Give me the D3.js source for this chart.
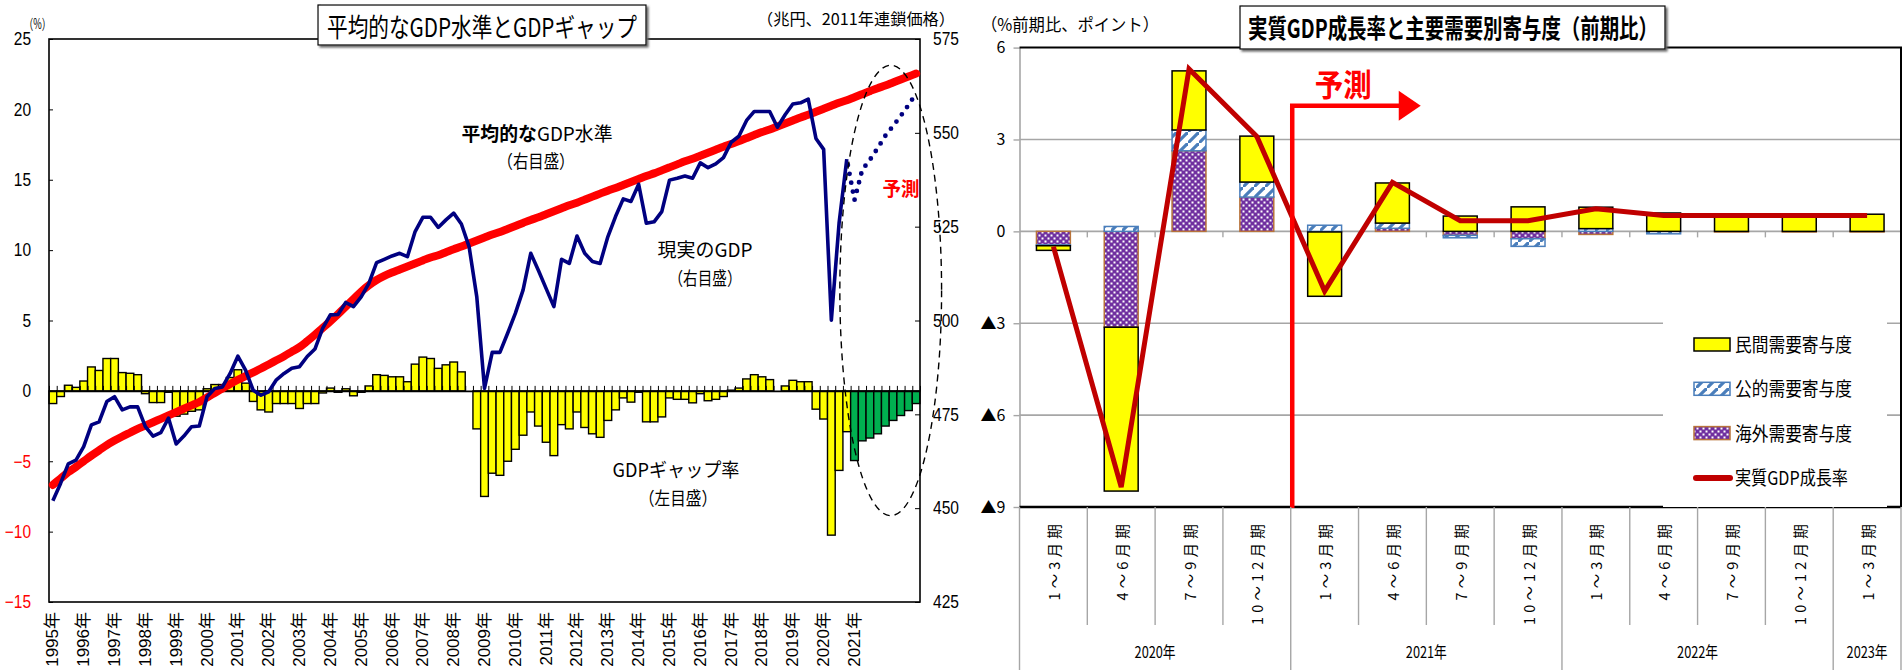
<!DOCTYPE html>
<html lang="ja"><head><meta charset="utf-8">
<script src="https://cdn.jsdelivr.net/npm/d3@7/dist/d3.min.js"></script>
<style>
html,body{margin:0;padding:0;background:#fff;overflow:hidden}
svg{display:block}
text{font-family:"Liberation Sans","Noto Sans CJK JP",sans-serif}
text.jp,.jp text,.jp{font-family:"Noto Sans CJK JP",sans-serif}
</style></head><body>
<svg id="chart" width="1903" height="670"></svg>
<script>
// ================= DATA : left chart =================
const gapYears = [1995,1996,1997,1998,1999,2000,2001,2002,2003,2004,2005,2006,2007,2008,2009,2010,2011,2012,2013,2014,2015,2016,2017,2018,2019,2020,2021,2022,2023];
const lastQuarter = "2023Q1";
const forecastStart = "2021Q1";
const yearTickLabels = ["1995年","1996年","1997年","1998年","1999年","2000年","2001年","2002年","2003年","2004年","2005年","2006年","2007年","2008年","2009年","2010年","2011年","2012年","2013年","2014年","2015年","2016年","2017年","2018年","2019年","2020年","2021年"];
const leftTicks = [-15,-10,-5,0,5,10,15,20,25];
const rightTicks = [425,450,475,500,525,550,575];
// GDP gap rate (%, left axis), 1995Q1 .. 2023Q1
const gdpGap = [
 -0.9,-0.4,0.4,0.25, 0.7,1.7,1.45,2.3, 2.3,1.3,1.25,1.15, -0.2,-0.83,-0.83,-0.1,
 -1.8,-1.65,-1.45,-1.35, 0.15,0.45,0.45,0.95, 1.5,0.55,-0.75,-1.35, -1.5,-0.9,-0.9,-0.9,
 -1.25,-0.9,-0.9,-0.15, 0.2,-0.1,0.15,-0.35, -0.1,0.35,1.15,1.1, 1.0,1.0,0.65,1.9,
 2.4,2.3,1.6,1.85, 2.05,1.35,0.0,-2.7, -7.5,-5.85,-6.0,-5.0, -4.15,-3.15,-1.5,-2.5,
 -3.65,-4.6,-2.4,-2.7, -1.5,-2.6,-3.05,-3.3, -2.1,-1.35,-0.5,-0.8, -0.1,-2.2,-2.2,-1.85,
 -0.5,-0.6,-0.6,-0.85, -0.2,-0.7,-0.6,-0.4, 0.05,0.2,0.85,1.15, 1.0,0.8,0.0,0.35,
 0.75,0.65,0.65,-1.3, -2.0,-10.25,-5.65,-2.9, -4.95,-3.55,-3.35,-3.05, -2.5,-2.1,-1.75,-1.4,
 -0.9];
// actual real GDP (trillion yen, right axis), 1995Q1 .. 2020Q4
const actualGDP = [
 452.0,456.6,461.8,462.8,466.4,472.2,473.0,478.4,479.7,476.2,
 477.0,477.0,471.7,469.2,470.1,474.0,467.1,469.2,471.7,471.9,
 479.7,481.9,482.3,485.9,490.5,486.8,481.4,480.1,481.0,484.2,
 485.9,487.3,487.7,490.4,492.4,497.9,501.5,501.6,504.8,503.7,
 506.3,509.9,515.4,516.3,517.2,517.9,517.0,523.7,527.5,527.5,
 524.8,526.8,528.6,525.7,519.7,506.3,481.9,491.5,491.5,496.6,
 501.9,508.1,517.9,513.3,508.5,503.7,516.3,515.2,522.5,517.9,
 515.7,515.2,522.3,527.7,532.4,531.7,536.3,525.9,526.3,529.0,
 537.4,537.9,538.5,537.9,542.0,540.7,541.7,543.4,547.5,549.1,
 553.3,555.7,555.7,555.7,551.5,554.8,557.7,558.0,559.0,548.5,
 545.6,500.1,525.9,543.0];
// forecast path of real GDP, 2020Q4 .. 2023Q1
const actualGDPForecast = [543.0,532.1,540.1,542.8,545.9,549.2,551.8,554.5,557.4,560.5];
// average (potential) GDP level (right axis), 1995Q1 .. 2023Q1
const potentialGDP = [
 456.2,457.9,459.6,461.0,462.5,464.0,465.4,466.8,468.0,469.1,
 470.1,471.1,472.0,472.9,473.8,474.7,475.6,476.5,477.4,478.3,
 479.5,480.7,481.9,483.1,484.2,485.2,486.2,487.2,488.3,489.4,
 490.5,491.7,492.9,494.5,496.2,498.0,499.8,501.7,503.7,505.7,
 507.7,509.4,510.8,511.9,512.8,513.6,514.4,515.2,516.0,516.8,
 517.4,518.2,519.0,519.7,520.5,521.3,522.1,522.9,523.6,524.4,
 525.2,526.0,526.8,527.5,528.3,529.1,529.9,530.7,531.4,532.2,
 533.0,533.8,534.6,535.3,536.1,536.9,537.7,538.5,539.2,540.0,
 540.8,541.6,542.4,543.1,543.9,544.7,545.5,546.3,547.0,547.8,
 548.6,549.4,550.2,550.9,551.7,552.5,553.3,554.1,554.8,555.6,
 556.4,557.2,558.0,558.7,559.5,560.3,561.1,561.9,562.6,563.4,
 564.2,565.0,565.8];

// ================= DATA : right chart =================
const rYears = ["2020年","2021年","2022年","2023年"];
const rQuarterLabels = ["1～3月期","4～6月期","7～9月期","10～12月期","1～3月期","4～6月期","7～9月期","10～12月期","1～3月期","4～6月期","7～9月期","10～12月期","1～3月期"];
const rYearOf = [0,0,0,0,1,1,1,1,2,2,2,2,3];
const privateDemand  = [-0.15,-5.35,1.93,1.5,-2.1,1.31,0.5,0.8,0.7,0.6,0.55,0.55,0.56];
const publicDemand   = [-0.03,0.16,0.68,0.49,0.2,0.17,-0.08,-0.25,0.09,-0.08,0.0,0.0,0.0];
const externalDemand = [-0.44,-3.13,2.63,1.12,-0.02,0.1,-0.13,-0.24,-0.1,0.0,-0.02,-0.02,-0.02];
const realGDPGrowth  = [-0.5,-8.35,5.3,3.1,-1.95,1.6,0.35,0.35,0.74,0.52,0.52,0.52,0.52];
const rTicks = [6,3,0,-3,-6,-9];
const rForecastFrom = 4; // index of first forecast quarter
const legendItems = ["民間需要寄与度","公的需要寄与度","海外需要寄与度","実質GDP成長率"];

// ================= DRAW =================
const svg = d3.select("#chart");
const defs = svg.append("defs");
// patterns
const pPub = defs.append("pattern").attr("id","pPub").attr("patternUnits","userSpaceOnUse").attr("width",11).attr("height",11);
pPub.append("rect").attr("width",11).attr("height",11).attr("fill","#fff");
pPub.append("path").attr("d","M-2,13 L13,-2").attr("stroke","#4A7EBB").attr("stroke-width",3.2);
const pExt = defs.append("pattern").attr("id","pExt").attr("patternUnits","userSpaceOnUse").attr("width",6).attr("height",6);
pExt.append("rect").attr("width",6).attr("height",6).attr("fill","#7030A0");
pExt.append("rect").attr("x",0.5).attr("y",0.5).attr("width",2).attr("height",2).attr("fill","#fff");
pExt.append("rect").attr("x",3.5).attr("y",3.5).attr("width",2).attr("height",2).attr("fill","#fff");
const sh = defs.append("filter").attr("id","shadow").attr("x","-5%").attr("y","-10%").attr("width","115%").attr("height","140%");
sh.append("feDropShadow").attr("dx",2).attr("dy",2).attr("stdDeviation",0.8).attr("flood-color","#666");

// ---------- LEFT CHART ----------
const L = {x0:49, x1:920, y0:39, y1:602};
const quarters = [];
gapYears.forEach(y => ["Q1","Q2","Q3","Q4"].forEach(q => quarters.push(y + q)));
quarters.splice(quarters.indexOf(lastQuarter) + 1);
const xL = d3.scaleBand().domain(quarters).range([L.x0, L.x1]).padding(0);
const xIdx = d3.scaleLinear().domain([0, quarters.length]).range([L.x0, L.x1]);
const yL = d3.scaleLinear().domain([-15, 25]).range([L.y1, L.y0]);
const yR = d3.scaleLinear().domain([425, 575]).range([L.y1, L.y0]);
const cxL = q => xL(q) + xL.bandwidth() / 2;
const fIdx = quarters.indexOf(forecastStart);
const gL = svg.append("g");

// bars
gL.append("g").selectAll("rect").data(gdpGap).join("rect")
  .attr("x", (d,i) => xL(quarters[i])).attr("width", xL.bandwidth())
  .attr("y", d => yL(Math.max(0, d))).attr("height", d => Math.abs(yL(d) - yL(0)))
  .attr("fill", (d,i) => i >= fIdx ? "#00B050" : "#FFFF00")
  .attr("stroke", "#000").attr("stroke-width", 1.4);

// zero axis with quarter ticks
gL.append("g").attr("transform", `translate(0,${yL(0)})`)
  .call(d3.axisTop(xIdx).tickValues(d3.range(0, quarters.length + 1)).tickSizeInner(5).tickSizeOuter(0).tickFormat(""))
  .call(g => { g.select(".domain").attr("stroke","#000").attr("stroke-width",1.6); g.selectAll(".tick line").attr("stroke","#000").attr("stroke-width",1); });

// frame
gL.append("rect").attr("x",L.x0).attr("y",L.y0).attr("width",L.x1-L.x0).attr("height",L.y1-L.y0)
  .attr("fill","none").attr("stroke","#000").attr("stroke-width",1.6);

// left axis
gL.append("g").attr("transform", `translate(${L.x0},0)`)
  .call(d3.axisLeft(yL).tickValues(leftTicks).tickSizeInner(-4).tickSizeOuter(0).tickPadding(18)
        .tickFormat(d => d < 0 ? "−" + (-d) : String(d)))
  .call(g => { g.select(".domain").remove();
    g.selectAll(".tick line").attr("stroke","#000");
    g.selectAll(".tick text").attr("font-size",18)
      .attr("textLength", d => String(Math.abs(d)).length * 8.6 + (d < 0 ? 9 : 0)).attr("lengthAdjust","spacingAndGlyphs")
      .attr("fill", d => d < 0 ? "#FF0000" : "#000"); });
// right axis
gL.append("g").attr("transform", `translate(${L.x1},0)`)
  .call(d3.axisRight(yR).tickValues(rightTicks).tickSizeInner(-5).tickSizeOuter(0).tickPadding(13))
  .call(g => { g.select(".domain").remove();
    g.selectAll(".tick line").attr("stroke","#000");
    g.selectAll(".tick text").attr("font-size",18)
      .attr("textLength",26).attr("lengthAdjust","spacingAndGlyphs").attr("fill","#000"); });

// year labels
gL.append("g").selectAll("text").data(yearTickLabels).join("text")
  .attr("transform", d => `translate(${cxL(parseInt(d) + "Q1")},612) rotate(-90)`)
  .attr("text-anchor","end").attr("dominant-baseline","central")
  .attr("font-size",17).attr("fill","#000").text(d => d);

// potential GDP (red)
gL.append("path").datum(potentialGDP)
  .attr("d", d3.line().x((d,i) => cxL(quarters[i])).y(d => yR(d)).curve(d3.curveMonotoneX))
  .attr("fill","none").attr("stroke","#FF0000").attr("stroke-width",8).attr("stroke-linecap","round");
// actual GDP (navy)
gL.append("path").datum(actualGDP)
  .attr("d", d3.line().x((d,i) => cxL(quarters[i])).y(d => yR(d)))
  .attr("fill","none").attr("stroke","#000080").attr("stroke-width",3.6).attr("stroke-linejoin","round");
// forecast dotted
const fcStart = quarters.indexOf(forecastStart) - 1;
gL.append("path").datum(actualGDPForecast)
  .attr("d", d3.line().x((d,i) => cxL(quarters[fcStart + i])).y(d => yR(d)))
  .attr("fill","none").attr("stroke","#000080").attr("stroke-width",4.8)
  .attr("stroke-linecap","round").attr("stroke-dasharray","0 9").attr("stroke-dashoffset",-6);

// dashed ellipse around forecast
gL.append("ellipse")
  .attr("cx", xIdx(109.2)).attr("cy", yR(508))
  .attr("rx", xIdx(6.6) - xIdx(0)).attr("ry", yR(448) - yR(508))
  .attr("fill","none").attr("stroke","#000").attr("stroke-width",1.4).attr("stroke-dasharray","7 5");

// annotations
const annL = gL.append("g").attr("class","jp").attr("fill","#000").attr("text-anchor","middle");
const t1 = annL.append("text").attr("x", 537).attr("y", 141).attr("font-size",19).attr("textLength",151).attr("lengthAdjust","spacingAndGlyphs");
t1.append("tspan").attr("font-weight","bold").text("平均的な");
t1.append("tspan").text("GDP水準");
annL.append("text").attr("x",536).attr("y",168).attr("font-size",18).attr("textLength",77).attr("lengthAdjust","spacingAndGlyphs").text("（右目盛）");
annL.append("text").attr("x",705).attr("y",257).attr("font-size",19).attr("textLength",95).attr("lengthAdjust","spacingAndGlyphs").text("現実のGDP");
annL.append("text").attr("x",705).attr("y",285).attr("font-size",18).attr("textLength",73).attr("lengthAdjust","spacingAndGlyphs").text("（右目盛）");
annL.append("text").attr("x",676).attr("y",477).attr("font-size",19).attr("textLength",127).attr("lengthAdjust","spacingAndGlyphs").text("GDPギャップ率");
annL.append("text").attr("x",678).attr("y",505).attr("font-size",18).attr("textLength",78).attr("lengthAdjust","spacingAndGlyphs").text("（左目盛）");
annL.append("text").attr("x",901).attr("y",196).attr("font-size",19).attr("font-weight","bold").attr("fill","#FF0000").attr("textLength",37).attr("lengthAdjust","spacingAndGlyphs").text("予測");

// top labels
svg.append("text").attr("class","jp").attr("x",24).attr("y",29).attr("font-size",14).attr("textLength",27).attr("lengthAdjust","spacingAndGlyphs").text("（%）");
svg.append("text").attr("class","jp").attr("x",757).attr("y",25).attr("font-size",16).attr("textLength",198).attr("lengthAdjust","spacingAndGlyphs").text("（兆円、2011年連鎖価格）");
// title box
svg.append("rect").attr("x",318).attr("y",5).attr("width",328).attr("height",40).attr("fill","#fff").attr("stroke","#000").attr("stroke-width",1.2).attr("filter","url(#shadow)");
svg.append("text").attr("class","jp").attr("x",482).attr("y",37).attr("text-anchor","middle").attr("font-size",26)
  .attr("textLength",310).attr("lengthAdjust","spacingAndGlyphs").text("平均的なGDP水準とGDPギャップ");

// ---------- RIGHT CHART ----------
const R = {x0:1019.5, x1:1901, y0:47.6, y1:507};
const rKeys = rQuarterLabels.map((d,i) => rYears[rYearOf[i]] + "|" + i);
const xR = d3.scaleBand().domain(rKeys).range([R.x0, R.x1]).paddingInner(0.5).paddingOuter(0.25);
const stepR = xR.step();
const yRC = d3.scaleLinear().domain([-9, 6]).range([R.y1, R.y0]);
const cxR = k => xR(k) + xR.bandwidth() / 2;
const bnd = i => R.x0 + i * stepR;
const gR = svg.append("g");

// gridlines
gR.append("g").selectAll("line").data(rTicks.filter(d => d !== 6 && d !== -9)).join("line")
  .attr("x1",R.x0).attr("x2",R.x1).attr("y1",d => yRC(d)).attr("y2",d => yRC(d))
  .attr("stroke","#A6A6A6").attr("stroke-width",1.6);
// zero ticks
gR.append("g").selectAll("line").data(d3.range(1, rKeys.length)).join("line")
  .attr("x1",bnd).attr("x2",bnd).attr("y1",yRC(0)).attr("y2",yRC(0) + 6)
  .attr("stroke","#A6A6A6").attr("stroke-width",1.4);
// left axis
gR.append("g").attr("transform",`translate(${R.x0},0)`)
  .call(d3.axisLeft(yRC).tickValues(rTicks).tickSizeInner(6).tickSizeOuter(0).tickPadding(8)
        .tickFormat(d => d < 0 ? "▲" + (-d) : String(d)))
  .call(g => { g.select(".domain").attr("stroke","#A6A6A6").attr("stroke-width",1.6);
    g.selectAll(".tick line").attr("stroke","#A6A6A6").attr("stroke-width",1.4);
    g.selectAll(".tick text").attr("class","jp").attr("font-size",16).attr("fill","#000"); });

// stacked bars
const rows = rKeys.map((k,i) => ({key:k, ext:externalDemand[i], pub:publicDemand[i], prv:privateDemand[i]}));
const series = d3.stack().keys(["ext","pub","prv"]).offset(d3.stackOffsetDiverging)(rows);
const sFill = {ext:"url(#pExt)", pub:"url(#pPub)", prv:"#FFFF00"};
const sStroke = {ext:"#B8733A", pub:"#4A7EBB", prv:"#000"};
gR.append("g").selectAll("g").data(series).join("g")
  .attr("fill", s => sFill[s.key]).attr("stroke", s => sStroke[s.key]).attr("stroke-width",1.5)
  .selectAll("rect").data(s => s.filter(d => d[0] !== d[1])).join("rect")
  .attr("x", d => xR(d.data.key)).attr("width", xR.bandwidth())
  .attr("y", d => yRC(Math.max(d[0], d[1]))).attr("height", d => Math.abs(yRC(d[0]) - yRC(d[1])));

// plot frame (top/right/bottom)
gR.append("path").attr("d",`M${R.x0},${R.y0}H${R.x1}V${R.y1}`).attr("fill","none").attr("stroke","#000").attr("stroke-width",2);
gR.append("line").attr("x1",R.x0).attr("x2",R.x1).attr("y1",R.y1).attr("y2",R.y1).attr("stroke","#000").attr("stroke-width",2.4);

// legend
const lg = gR.append("g").attr("transform","translate(1663,322)");
lg.append("rect").attr("width",224).attr("height",185).attr("fill","#fff");
legendItems.forEach((t,i) => {
  const y = 23 + i * 44.3;
  if (i < 3) {
    const k = ["prv","pub","ext"][i];
    lg.append("rect").attr("x",31).attr("y",y-7).attr("width",36).attr("height",13)
      .attr("fill",sFill[k]).attr("stroke",sStroke[k]).attr("stroke-width",1.5);
  } else {
    lg.append("line").attr("x1",33).attr("x2",67).attr("y1",y).attr("y2",y)
      .attr("stroke","#C00000").attr("stroke-width",6).attr("stroke-linecap","round");
  }
  lg.append("text").attr("class","jp").attr("x",72).attr("y",y+7).attr("font-size",19)
    .attr("textLength", i < 3 ? 117 : 113).attr("lengthAdjust","spacingAndGlyphs").text(t);
});

// GDP growth line
gR.append("path").datum(realGDPGrowth)
  .attr("d", d3.line().x((d,i) => cxR(rKeys[i])).y(d => yRC(d)))
  .attr("fill","none").attr("stroke","#C00000").attr("stroke-width",5).attr("stroke-linejoin","miter");

// forecast marker
const fx = bnd(rForecastFrom) + 1.5, fy = yRC(4.1);
const ax = fx + 1.6 * stepR;
gR.append("path").attr("d",`M${fx},${R.y1+1}V${fy}H${ax}`).attr("fill","none").attr("stroke","#FF0000").attr("stroke-width",4.5);
gR.append("path").attr("d",`M${ax-2},${fy-15}L${ax+20},${fy}L${ax-2},${fy+15}Z`).attr("fill","#FF0000");
gR.append("text").attr("class","jp").attr("x",fx + 51).attr("y",fy - 10).attr("text-anchor","middle")
  .attr("font-size",31).attr("font-weight","bold").attr("fill","#FF0000")
  .attr("textLength",57).attr("lengthAdjust","spacingAndGlyphs").text("予測");

// category axis below
gR.append("g").selectAll("line").data(d3.range(0, rKeys.length + 1)).join("line")
  .attr("x1",bnd).attr("x2",bnd).attr("y1",R.y1)
  .attr("y2", i => (i === 0 || i === rKeys.length || rYearOf[i] !== rYearOf[i-1]) ? 670 : 625)
  .attr("stroke","#A6A6A6").attr("stroke-width",1.4);
gR.append("g").selectAll("text").data(rQuarterLabels).join("text")
  .attr("class","jp")
  .attr("transform",(d,i) => `translate(${cxR(rKeys[i])},520) rotate(-90)`)
  .attr("text-anchor","end").attr("dominant-baseline","central")
  .attr("font-size",14.5).attr("letter-spacing",4.2).attr("fill","#000").text(d => d);
gR.append("g").selectAll("text").data(rYears).join("text")
  .attr("class","jp")
  .attr("x",(d,j) => { const idx = rYearOf.map((v,i)=>v===j?i:-1).filter(i=>i>=0);
     return (bnd(idx[0]) + bnd(idx[idx.length-1] + 1)) / 2; })
  .attr("y",658).attr("text-anchor","middle").attr("font-size",16)
  .attr("textLength",41).attr("lengthAdjust","spacingAndGlyphs").text(d => d);

// top labels
svg.append("text").attr("class","jp").attr("x",981).attr("y",31).attr("font-size",17).attr("textLength",178).attr("lengthAdjust","spacingAndGlyphs").text("（%前期比、ポイント）");
svg.append("rect").attr("x",1240).attr("y",6).attr("width",425).attr("height",43).attr("fill","#fff").attr("stroke","#000").attr("stroke-width",1.2).attr("filter","url(#shadow)");
svg.append("text").attr("class","jp").attr("x",1453).attr("y",38).attr("text-anchor","middle").attr("font-size",26).attr("font-weight","bold")
  .attr("textLength",410).attr("lengthAdjust","spacingAndGlyphs").text("実質GDP成長率と主要需要別寄与度（前期比）");
</script>
</body></html>
